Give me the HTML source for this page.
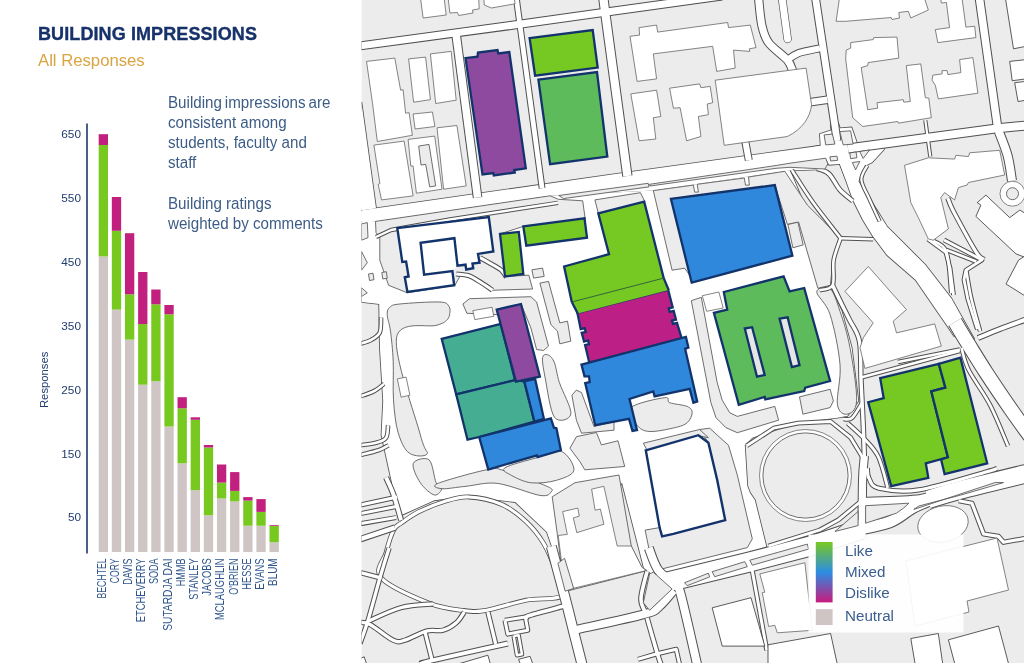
<!DOCTYPE html>
<html lang="en">
<head>
<meta charset="utf-8">
<title>Building Impressions</title>
<style>
html,body{margin:0;padding:0;background:#fff;}
body{width:1024px;height:663px;overflow:hidden;position:relative;font-family:"Liberation Sans",sans-serif;}
svg{position:absolute;left:0;top:0;}
.title{position:absolute;left:38px;top:23.5px;font-size:18px;font-weight:bold;color:#17326a;letter-spacing:0.1px;-webkit-text-stroke:0.35px #17326a;white-space:nowrap;line-height:20px;}
.sub{position:absolute;left:38px;top:50.5px;font-size:16.7px;color:#d9a441;white-space:nowrap;line-height:20px;}
.para{position:absolute;left:168px;font-size:16px;line-height:20.2px;color:#3d5c86;white-space:nowrap;transform:scaleX(0.946);transform-origin:0 0;}
.ax{font-family:"Liberation Sans",sans-serif;font-size:11.8px;fill:#1f3d6f;}
.bl{font-family:"Liberation Sans",sans-serif;font-size:12px;fill:#2d558c;}
.lg{font-family:"Liberation Sans",sans-serif;font-size:15.2px;fill:#3a5d8d;}
/* map */
.g{fill:#ececec;stroke:#555;stroke-width:.85;stroke-linejoin:round;}
.gn{fill:#ececec;stroke:none;}
.w,.w2{fill:#fff;stroke:#666;stroke-width:.8;stroke-linejoin:round;}
.wd{fill:#fff;stroke:#333;stroke-width:.8;stroke-linejoin:round;}
.wn{fill:#fff;stroke:none;}
.ws{fill:#fff;stroke:#555;stroke-width:1.7;stroke-linejoin:round;}
.ln{fill:none;stroke:#6a6a6a;stroke-width:.8;}
.rc{fill:none;stroke:#505050;stroke-linecap:butt;stroke-linejoin:round;}
.rf{fill:none;stroke:#fff;stroke-linecap:butt;stroke-linejoin:round;}
.b{stroke:#12336b;stroke-width:2.3;stroke-linejoin:miter;}
.nv{fill:#fff;stroke:#12336b;stroke-width:2.4;stroke-linejoin:miter;}
</style>
</head>
<body>
<svg width="1024" height="663" viewBox="0 0 1024 663">
<defs>
<clipPath id="mc"><rect x="361.5" y="0" width="662.5" height="663"/></clipPath>
<linearGradient id="lgr" x1="0" y1="0" x2="0" y2="1">
<stop offset="0" stop-color="#79c920"/><stop offset="0.5" stop-color="#2c8de2"/><stop offset="1" stop-color="#c81a7c"/>
</linearGradient>
</defs>
<g clip-path="url(#mc)">
<rect x="361.5" y="0" width="663" height="663" fill="#ececec"/>
<polygon class="ws" points="355.0,211.4 376.0,208.3 612.0,174.5 742.0,156.6 820.7,145.7 825.7,158.5 827.9,164.0 818.2,169.5 790.0,170.5 653.0,190.6 550.0,195.8 375.5,221.4 355.0,224.5"/>
<polygon class="ws" points="355.0,100.0 361.5,102.7 376.0,208.3 355.0,211.4"/>
<polygon class="ws" points="819.9,134.1 831.5,130.3 830.7,125.0 838.5,124.1 839.8,128.3 851.5,127.4 857.3,144.1 883.0,140.4 883.9,149.5 872.2,162.3 866.7,165.1 863.1,173.1 844.8,176.4 839.8,164.0 829.0,164.8 825.7,158.5 806.6,160.8 806.6,148.5 820.7,145.7"/>
<polygon class="ws" points="839.8,163.2 853.0,200.0 863.0,220.0 872.8,236.1 887.0,255.1 915.5,279.8 947.4,326.0 954.3,336.2 974.2,338.9 966.8,326.0 951.6,298.8 925.0,264.6 887.0,226.6 878.0,212.0 858.5,181.4 862.0,170.0 868.0,160.0 850.0,150.0"/>
<polygon class="ws" points="355.0,222.0 375.5,221.4 550.0,195.8 653.3,190.6 790.0,170.5 810.2,218.3 827.4,285.4 831.7,289.7 841.7,311.3 851.7,347.8 858.3,400.9 847.3,415.9 837.5,417.7 797.4,422.7 752.3,437.7 744.8,445.3 747.3,486.1 750.0,493.0 754.8,500.0 766.3,546.4 672.1,583.2 644.6,570.7 622.0,482.5 562.7,577.7 546.9,532.0 515.3,502.1 466.0,496.1 434.4,500.3 399.2,516.1 381.5,435.1 383.2,400.9 379.9,347.8 379.2,304.0 361.6,302.0"/>
<polygon class="ws" points="396.6,338.0 437.4,326.3 441.7,338.8 488.3,469.5 437.9,482.8 430.9,459.8 409.9,395.2 401.1,397.2 397.3,378.9 406.1,377.1"/>
<polygon class="wn" points="355.0,211.4 376.0,208.3 612.0,174.5 742.0,156.6 820.7,145.7 825.7,158.5 827.9,164.0 818.2,169.5 790.0,170.5 653.0,190.6 550.0,195.8 375.5,221.4 355.0,224.5"/>
<polygon class="wn" points="355.0,100.0 361.5,102.7 376.0,208.3 355.0,211.4"/>
<polygon class="wn" points="819.9,134.1 831.5,130.3 830.7,125.0 838.5,124.1 839.8,128.3 851.5,127.4 857.3,144.1 883.0,140.4 883.9,149.5 872.2,162.3 866.7,165.1 863.1,173.1 844.8,176.4 839.8,164.0 829.0,164.8 825.7,158.5 806.6,160.8 806.6,148.5 820.7,145.7"/>
<polygon class="wn" points="839.8,163.2 853.0,200.0 863.0,220.0 872.8,236.1 887.0,255.1 915.5,279.8 947.4,326.0 954.3,336.2 974.2,338.9 966.8,326.0 951.6,298.8 925.0,264.6 887.0,226.6 878.0,212.0 858.5,181.4 862.0,170.0 868.0,160.0 850.0,150.0"/>
<polygon class="wn" points="355.0,222.0 375.5,221.4 550.0,195.8 653.3,190.6 790.0,170.5 810.2,218.3 827.4,285.4 831.7,289.7 841.7,311.3 851.7,347.8 858.3,400.9 847.3,415.9 837.5,417.7 797.4,422.7 752.3,437.7 744.8,445.3 747.3,486.1 750.0,493.0 754.8,500.0 766.3,546.4 672.1,583.2 644.6,570.7 622.0,482.5 562.7,577.7 546.9,532.0 515.3,502.1 466.0,496.1 434.4,500.3 399.2,516.1 381.5,435.1 383.2,400.9 379.9,347.8 379.2,304.0 361.6,302.0"/>
<polygon class="wn" points="396.6,338.0 437.4,326.3 441.7,338.8 488.3,469.5 437.9,482.8 430.9,459.8 409.9,395.2 401.1,397.2 397.3,378.9 406.1,377.1"/>
<polygon class="g" points="653.3,190.6 693.4,185.1 694.7,192.1 698.4,192.1 697.2,184.3 744.3,178.0 745.5,185.1 749.3,185.1 748.5,177.0 784.8,171.3 807.4,205.1 840.0,237.7 832.4,265.2 830.4,285.3 817.9,288.3 798.6,222.1 787.4,224.4 774.8,185.1 670.9,198.8 689.7,275.2 684.6,268.2 672.1,270.2"/>
<path class="g" d="M816.8 292.0 C816.8 287.7 826.2 285.5 830.1 288.7 C834.0 291.9 836.7 301.4 840.0 311.3 C843.4 321.1 847.2 332.9 850.0 347.8 C852.8 362.7 857.2 389.9 856.6 400.9 C856.1 412.0 849.9 413.6 846.7 414.2 C843.5 414.8 838.5 412.5 837.4 404.2 C836.3 395.9 841.3 379.3 840.0 364.4 C838.8 349.5 834.0 326.7 830.1 314.6 C826.2 302.5 816.8 296.3 816.8 292.0Z"/>
<polygon class="g" points="375.5,221.4 550.1,195.8 558.4,199.3 582.7,200.8 585.2,218.9 523.3,226.4 500.0,233.9 505.0,276.5 528.8,275.2 532.6,289.0 491.3,290.3 481.3,280.2 461.2,274.0 454.9,285.3 407.4,292.8 388.6,285.3 379.8,260.2 379.8,237.7 376.0,232.6"/>
<polygon class="g" points="594.9,199.9 640.4,192.7 644.8,201.5 598.4,213.5"/>
<polygon class="g" points="558.8,195.5 648.2,183.3 649.0,186.9 563.5,198.6"/>
<path class="g" d="M387.2 314.6 C387.1 310.6 387.7 309.1 389.8 307.3 C391.9 305.5 391.5 304.9 399.8 304.0 C408.1 303.1 431.5 301.6 439.6 302.0 C447.8 302.4 447.3 304.2 448.9 306.3 C450.6 308.4 450.0 312.2 449.6 314.6 C449.2 317.0 448.4 318.8 446.3 320.6 C444.2 322.3 445.3 322.3 437.0 325.2 C428.7 328.1 399.2 319.5 396.5 337.8 C393.7 356.2 415.3 415.8 420.4 435.1 C425.5 454.5 428.9 451.1 427.0 454.0 C425.1 457.0 413.9 456.6 409.1 453.0 C404.3 449.5 400.7 441.3 398.1 432.5 C395.5 423.6 394.3 411.8 393.5 399.9 C392.7 388.0 393.7 372.5 393.2 361.1 C392.7 349.6 391.5 338.9 390.5 331.2 C389.5 323.5 387.3 318.6 387.2 314.6Z"/>
<path class="g" d="M413.3 463.4 C414.8 459.6 425.3 456.7 429.1 459.9 C432.9 463.1 434.0 478.1 436.1 482.7 C438.3 487.4 442.4 486.0 442.1 488.0 C441.8 490.1 438.0 495.9 434.4 495.0 C430.8 494.2 423.8 488.0 420.3 482.7 C416.8 477.5 411.8 467.2 413.3 463.4Z"/>
<path class="g" d="M437.9 483.4 C445.4 480.3 476.0 471.8 487.1 469.7 C498.3 467.6 494.7 468.0 504.7 470.8 C514.7 473.5 539.2 482.7 546.9 486.3 C554.6 489.8 552.3 490.4 551.1 491.9 C550.0 493.4 548.8 496.8 539.9 495.4 C531.0 494.0 510.0 485.0 497.7 483.4 C485.4 481.9 475.3 485.4 466.0 486.3 C456.8 487.1 446.8 489.2 442.1 488.7 C437.4 488.3 430.4 486.6 437.9 483.4Z"/>
<polygon class="g" points="462.9,304.0 469.5,298.7 530.9,296.7 536.6,302.0 548.5,346.1 543.6,350.5 536.6,349.5 530.9,327.9 521.0,304.0 496.7,309.6 497.7,314.6 466.9,313.3"/>
<polygon class="w2" points="472.8,310.6 492.1,307.3 493.8,316.3 474.8,319.6"/>
<path class="g" d="M542.6 357.6 C543.2 353.8 546.4 354.2 548.4 355.1 C550.3 355.9 552.6 358.0 554.4 362.6 C556.2 367.2 556.7 374.1 559.4 382.6 C562.2 391.2 571.8 408.2 570.9 413.9 C570.1 419.7 558.7 423.2 554.4 417.2 C550.1 411.1 547.1 387.6 545.1 377.6 C543.2 367.7 542.1 361.3 542.6 357.6Z"/>
<polygon class="g" points="571.9,395.2 576.4,390.1 581.5,392.6 594.0,426.5 614.0,421.5 614.0,430.2 581.5,433.2 576.4,420.2"/>
<path class="g" d="M630.8 407.7 C635.4 403.1 658.1 398.5 664.6 397.7 C671.1 396.8 665.9 401.2 669.6 402.7 C673.4 404.1 683.4 404.8 687.2 406.4 C690.9 408.1 692.2 410.0 692.2 412.7 C692.2 415.4 690.1 420.2 687.2 422.7 C684.2 425.2 680.9 426.3 674.6 427.7 C668.4 429.2 655.8 431.9 649.6 431.5 C643.3 431.1 640.2 429.2 637.1 425.2 C633.9 421.2 626.2 412.3 630.8 407.7Z"/>
<polygon class="g" points="691.3,300.7 701.3,297.3 717.2,382.6 722.2,400.2 729.7,412.7 737.3,416.4 774.8,406.4 778.6,420.2 737.3,432.7 726.0,427.7 716.0,417.7 710.9,402.7"/>
<polygon class="g" points="799.5,396.9 830.1,389.3 833.4,400.9 830.1,407.6 802.9,414.2"/>
<polygon class="g" points="645.1,530.1 659.6,527.6 662.1,536.4 673.4,533.9 725.2,520.1 717.2,480.0 708.4,442.7 699.7,429.5 709.7,428.2 728.5,445.3 737.3,475.0 752.3,538.9 747.3,547.6 662.1,568.9 652.1,563.9"/>
<polygon class="g" points="643.3,443.2 699.7,429.5 708.4,437.7 698.4,435.7 647.1,450.3"/>
<polygon class="g" points="576.5,436.6 596.4,432.5 601.4,444.9 618.0,440.8 624.7,466.5 584.8,469.8 579.8,461.5 569.9,448.2"/>
<path class="g" d="M505.0 467.8 C509.2 464.9 527.0 460.5 536.4 457.8 C545.8 455.1 555.1 449.4 561.4 451.5 C567.6 453.6 574.7 465.5 573.9 470.3 C573.1 475.1 563.5 478.2 556.4 480.3 C549.3 482.4 538.9 483.6 531.4 482.8 C523.9 482.0 515.7 477.8 511.3 475.3 C506.9 472.8 500.8 470.7 505.0 467.8Z"/>
<polygon class="g" points="552.2,496.8 575.0,482.7 619.0,475.0 631.3,546.0 641.8,567.1 647.1,570.6 564.5,591.7 557.5,535.5"/>
<polygon class="w2" points="562.7,511.6 577.8,508.1 579.3,516.1 573.3,517.9 576.8,532.7 603.9,524.2 600.4,509.1 595.1,510.2 591.6,489.1 603.9,486.3 617.2,546.0 631.3,546.0 641.8,567.1 646.1,570.6 565.2,590.3 558.2,535.5 567.3,534.4"/>
<polygon class="g" points="361.5,223.9 367.3,222.6 368.0,237.7 361.5,240.2"/>
<polygon class="g" points="361.5,251.4 367.3,262.7 361.5,270.2"/>
<polygon class="g" points="361.5,287.8 367.3,292.8 361.5,296.5"/>
<polygon class="g" points="368.5,274.0 373.0,273.2 374.0,279.7 369.5,280.5"/>
<polygon class="g" points="381.8,272.5 386.3,271.7 387.3,278.2 382.8,279.0"/>
<path class="rc" stroke-width="4.8" d="M381.1 577.7 C374.0 569.3 384.0 560.6 386.1 552.6 C388.1 544.7 391.1 535.0 393.6 530.1 C396.1 525.2 396.9 526.1 401.1 523.1 C405.3 520.0 411.5 515.4 418.6 511.8 C425.7 508.3 435.3 504.3 443.7 501.8 C452.0 499.3 459.1 496.6 468.7 497.0 C478.3 497.5 491.7 500.2 501.3 504.3 C510.9 508.4 519.2 515.2 526.3 521.8 C533.4 528.4 538.9 535.4 543.9 543.9 C548.9 552.4 553.4 564.0 556.4 572.7 C559.4 581.3 566.9 591.1 561.9 595.7 C556.9 600.3 538.9 597.8 526.3 600.2 C513.7 602.7 496.7 608.5 486.3 610.3 C475.8 612.0 473.3 611.7 463.7 610.5 C454.1 609.3 442.4 608.5 428.6 603.0 C414.9 597.5 388.1 586.1 381.1 577.7Z"/><path class="rf" stroke-width="3.2" d="M381.1 577.7 C374.0 569.3 384.0 560.6 386.1 552.6 C388.1 544.7 391.1 535.0 393.6 530.1 C396.1 525.2 396.9 526.1 401.1 523.1 C405.3 520.0 411.5 515.4 418.6 511.8 C425.7 508.3 435.3 504.3 443.7 501.8 C452.0 499.3 459.1 496.6 468.7 497.0 C478.3 497.5 491.7 500.2 501.3 504.3 C510.9 508.4 519.2 515.2 526.3 521.8 C533.4 528.4 538.9 535.4 543.9 543.9 C548.9 552.4 553.4 564.0 556.4 572.7 C559.4 581.3 566.9 591.1 561.9 595.7 C556.9 600.3 538.9 597.8 526.3 600.2 C513.7 602.7 496.7 608.5 486.3 610.3 C475.8 612.0 473.3 611.7 463.7 610.5 C454.1 609.3 442.4 608.5 428.6 603.0 C414.9 597.5 388.1 586.1 381.1 577.7Z"/>
<polygon class="w2" points="397.3,378.9 406.1,377.1 409.9,395.2 401.1,397.2"/>
<polygon class="g" points="787.9,224.5 797.9,222.2 803.2,244.9 792.9,247.8"/>
<polyline class="rc" points="355.0,46.6 515.8,24.8 612.0,11.2 722.0,-4.0" stroke-width="9.0"/>
<polyline class="rc" points="455.9,33.0 477.6,197.6" stroke-width="9.6"/>
<polyline class="rc" points="516.3,-2.0 520.3,27.6 542.1,188.3" stroke-width="6.8"/>
<polyline class="rc" points="603.3,-2.0 605.7,16.3 627.4,176.0" stroke-width="10.3"/>
<polyline class="rc" points="815.5,-2.0 835.6,130.3 837.0,141.0" stroke-width="8.8"/>
<polyline class="rc" points="979.4,-2.0 997.2,124.5 998.0,131.0" stroke-width="9.5"/>
<polyline class="rc" points="848.0,148.5 995.0,128.6 1026.0,125.5" stroke-width="10.0"/>
<path class="rc" d="M758.5 -2.5 C759.1 2.1 760.1 17.5 761.8 25.1 C763.5 32.6 764.3 36.7 768.6 42.6 C772.8 48.4 783.3 55.3 787.4 60.1 C791.4 64.9 791.9 69.5 792.9 71.4" stroke-width="9.2"/>
<path class="rc" d="M787.4 60.1 C789.2 59.0 793.2 55.1 798.6 53.1 C804.1 51.1 816.4 49.1 819.9 48.3" stroke-width="8.0"/>
<polyline class="rc" points="809.9,102.2 827.4,99.7" stroke-width="8.5"/>
<polyline class="rc" points="745.3,141.5 748.8,160.3" stroke-width="8.0"/>
<path class="rc" d="M955.0 322.0 C957.1 325.6 962.7 335.0 967.9 343.4 C973.1 351.8 978.9 361.5 986.0 372.4 C993.1 383.3 1003.1 398.0 1010.4 408.6 C1017.7 419.2 1026.7 431.4 1030.0 436.0" stroke-width="15.5"/>
<path class="rc" d="M978.0 338.0 C981.7 336.5 992.0 332.1 1000.0 329.0 C1008.0 325.9 1021.7 321.1 1026.0 319.5" stroke-width="6.0"/>
<polyline class="rc" points="898.0,362.0 960.0,349.5" stroke-width="4.6"/>
<path class="rc" d="M817.4 168.5 C819.3 169.4 825.3 170.4 829.0 174.0 C832.8 177.5 835.9 185.2 839.8 189.7 C843.8 194.2 850.6 199.1 852.8 201.0" stroke-width="5.3"/>
<path class="rc" d="M867.2 165.6 C866.3 168.0 861.0 174.1 861.4 179.8 C861.8 185.4 866.7 192.8 869.7 199.7 C872.8 206.6 878.0 217.7 879.7 221.3" stroke-width="4.2"/>
<path class="rc" d="M998.7 131.1 C1000.2 135.3 1005.5 147.7 1007.7 156.0 C1009.9 164.3 1011.3 176.8 1012.0 180.9" stroke-width="10.0"/>
<path class="rc" d="M791.8 170.0 C795.3 175.4 804.9 191.2 813.1 202.6 C821.2 213.9 836.1 232.2 840.6 238.2" stroke-width="4.6"/>
<polyline class="rc" points="840.6,238.2 873.2,239.2" stroke-width="4.6"/>
<path class="rc" d="M840.6 238.2 C839.5 241.8 835.0 252.4 833.6 260.2 C832.3 268.0 835.0 280.2 832.6 285.3 C830.2 290.3 821.6 289.4 819.4 290.3" stroke-width="4.6"/>
<path class="rc" d="M359.8 539.4 L394.8 527.6" stroke-width="6.5"/>
<path class="rc" d="M359.8 505.1 L397.3 497.0" stroke-width="5.0"/>
<path class="rc" d="M359.8 513.8 L397.3 506.3" stroke-width="5.0"/>
<path class="rc" d="M359.8 523.8 L396.1 517.6" stroke-width="5.0"/>
<path class="rc" d="M386.1 477.5 C387.3 480.4 391.1 487.9 393.6 495.0 C396.1 502.1 399.8 515.9 401.1 520.1" stroke-width="6.0"/>
<path class="rc" d="M389.1 548.0 C387.5 553.0 383.4 566.0 379.9 577.9 C376.5 589.8 371.6 608.5 368.3 619.4 C365.0 630.4 361.4 639.5 360.0 643.5" stroke-width="5.3"/>
<path class="rc" d="M358.3 572.1 L381.6 578.2" stroke-width="5.4"/>
<path class="rc" d="M368.3 621.1 C373.8 618.8 390.7 610.4 401.5 607.5 C412.3 604.6 427.8 604.4 433.1 603.8" stroke-width="5.3"/>
<path class="rc" d="M358.3 622.4 C360.3 622.8 364.2 621.5 370.0 624.4 C375.8 627.4 387.4 637.6 393.2 640.2 C399.0 642.8 399.3 641.7 404.9 640.2 C410.4 638.7 420.1 632.7 426.4 631.1 C432.8 629.4 438.1 631.6 443.1 630.2 C448.0 628.9 452.8 625.8 456.3 622.8 C459.9 619.7 463.0 613.8 464.3 612.0" stroke-width="5.3"/>
<path class="rc" d="M425.1 632.4 L432.3 661.0" stroke-width="5.3"/>
<path class="rc" d="M419.8 664.0 C421.7 663.4 416.8 664.0 431.4 660.6 C446.1 657.2 495.1 646.4 507.8 643.5" stroke-width="6.0"/>
<path class="rc" d="M526.1 618.1 C526.8 617.6 523.8 617.3 530.0 615.3 C536.2 613.3 557.7 607.7 563.2 606.2" stroke-width="5.6"/>
<path class="rc" d="M487.9 612.0 L495.7 644.0" stroke-width="5.3"/>
<polyline class="rc" points="504.9,620.3 525.3,617.0 527.8,630.2 507.8,634.1 504.9,620.3" stroke-width="5.0"/>
<polyline class="rc" points="513.7,636.1 518.6,635.2 522.0,654.3 517.0,655.2 513.7,636.1" stroke-width="4.5"/>
<path class="rc" d="M551.3 546.4 C553.5 554.6 560.8 581.7 564.6 595.9 C568.3 610.0 570.5 619.1 573.5 631.1 C576.6 643.0 581.3 661.5 582.8 667.6" stroke-width="11.0"/>
<path class="rc" d="M575.7 629.7 C587.2 627.1 630.6 618.1 644.6 614.1 C658.6 610.2 654.7 610.1 659.6 606.2 C664.4 602.2 671.3 593.0 673.7 590.4" stroke-width="9.5"/>
<path class="rc" d="M647.1 571.3 C646.1 575.7 641.4 591.2 641.0 597.9 C640.5 604.5 644.0 608.9 644.6 611.1" stroke-width="5.6"/>
<path class="rc" d="M647.1 618.1 C648.8 623.9 654.6 644.4 657.1 652.7 C659.6 660.9 661.2 665.1 662.1 667.6" stroke-width="5.6"/>
<polyline class="rc" points="638.0,659.3 656.2,654.0 676.2,649.3 680.3,667.6" stroke-width="5.0"/>
<path class="rc" d="M648.8 548.0 C650.3 551.6 653.8 563.7 657.9 569.6 C662.1 575.6 670.0 579.9 673.7 583.7 C677.4 587.6 676.3 578.9 680.3 592.9 C684.3 606.8 694.9 655.2 697.8 667.6" stroke-width="10.0"/>
<polyline class="rc" points="655.0,585.0 748.5,562.3 812.4,545.5 862.0,529.0" stroke-width="21.0"/>
<path class="rc" d="M852.0 530.5 C858.3 529.0 879.6 525.6 889.7 521.8 C899.9 517.9 905.2 511.4 912.9 507.4 C920.6 503.3 932.1 499.1 936.0 497.5" stroke-width="13.0"/>
<path class="rc" d="M864.0 501.8 C873.3 501.4 906.6 500.7 919.6 499.1 C932.6 497.5 938.3 493.2 942.0 492.0" stroke-width="10.0"/>
<path class="rc" d="M928.0 499.5 C933.3 497.9 943.5 494.3 960.0 490.0 C976.5 485.7 1015.7 476.2 1026.8 473.5" stroke-width="19.5"/>
<path class="rc" d="M864.4 456.0 C864.1 460.0 863.0 466.3 862.6 480.0 C862.2 493.7 862.1 528.3 862.0 538.0" stroke-width="9.2"/>
<polyline class="rc" points="751.5,566.4 766.8,650.3" stroke-width="5.0"/>
<polyline class="rc" points="746.6,445.8 773.7,428.2 798.0,423.2 830.6,421.5 850.7,437.7 864.4,460.3" stroke-width="4.8"/>
<polyline class="rc" points="860.0,502.0 838.7,519.7 819.4,530.2 768.4,546.0" stroke-width="4.8"/>
<path class="rc" d="M832.6 285.3 C834.0 288.3 838.4 297.4 841.2 303.2 C844.0 308.9 846.5 313.4 849.5 319.8 C852.5 326.2 857.6 331.4 859.5 341.4 C861.4 351.4 860.4 366.9 861.0 380.0 C861.6 393.1 862.4 407.0 863.0 420.0 C863.6 433.0 864.2 451.7 864.4 458.0" stroke-width="5.4"/>
<path class="rc" d="M862.0 403.0 C860.3 405.5 855.2 415.3 852.0 418.0 C848.8 420.7 844.5 418.8 843.0 419.0" stroke-width="4.6"/>
<polyline class="rc" points="860.0,377.7 959.6,351.0" stroke-width="4.6"/>
<path class="rc" d="M847.7 423.2 C850.2 425.6 858.1 432.2 863.2 437.7 C868.3 443.3 874.1 448.2 878.2 456.5 C882.3 464.9 886.2 482.6 887.7 487.8" stroke-width="4.8"/>
<path class="rc" d="M961.5 348.0 C962.7 351.7 963.9 360.4 968.7 370.0 C973.5 379.6 983.9 392.9 990.4 405.6 C996.9 418.3 1005.1 439.3 1008.0 446.0" stroke-width="4.6"/>
<path class="rc" d="M867.3 468.3 C867.6 470.0 867.0 475.0 869.0 478.3 C870.9 481.6 870.6 486.3 878.9 488.3 C887.2 490.2 900.8 492.7 918.8 489.9 C936.8 487.2 973.9 475.3 986.9 471.7 C999.9 468.1 995.2 468.9 996.9 468.3" stroke-width="5.2"/>
<polyline class="rc" points="958.7,500.7 971.9,503.2 983.6,534.0 998.5,536.4 1003.5,542.3 1026.8,538.1" stroke-width="5.2"/>
<path class="rc" d="M456.2 274.0 C458.3 274.3 464.6 274.3 468.7 275.7 C472.9 277.2 477.3 280.3 481.3 282.7 C485.2 285.2 490.6 289.0 492.5 290.3" stroke-width="5.0"/>
<path class="rc" d="M480.0 257.7 C481.9 258.7 487.7 261.9 491.3 264.0 C494.8 266.0 498.8 268.0 501.3 270.2 C503.8 272.4 505.5 276.1 506.3 277.2" stroke-width="5.0"/>
<polyline class="rc" points="927.9,239.0 945.9,252.3 950.1,268.4 953.5,295.0" stroke-width="4.8"/>
<polyline class="rc" points="944.0,239.9 982.0,259.9 965.9,270.3 964.0,279.8 967.8,298.8 977.3,329.2" stroke-width="4.8"/>
<path class="rc" d="M947.8 198.1 C948.8 200.3 948.8 202.4 953.5 211.4 C958.3 220.4 971.2 244.3 976.3 252.3 C981.4 260.2 982.6 258.1 983.9 259.3" stroke-width="5.2"/>
<path class="rc" d="M359.8 343.8 C361.6 343.2 367.7 341.9 371.0 340.0 C374.4 338.2 378.1 336.3 379.8 332.5 C381.5 328.8 380.8 320.0 381.1 317.5" stroke-width="4.6"/>
<path class="rc" d="M359.8 396.4 C362.1 395.6 369.5 393.5 373.5 391.4 C377.6 389.3 382.3 385.1 384.1 383.9" stroke-width="4.6"/>
<path class="rc" d="M359.8 445.3 C362.5 444.8 371.7 444.0 376.0 442.7 C380.4 441.5 384.1 440.7 386.1 437.7 C388.1 434.8 387.7 427.3 388.1 425.2" stroke-width="4.6"/>
<path class="rc" d="M359.8 455.3 C362.9 454.4 373.7 451.9 378.5 450.3 C383.3 448.6 386.9 446.1 388.6 445.3" stroke-width="4.6"/>
<path class="rc" d="M931.3 239.9 C933.8 241.8 943.0 242.7 946.3 251.5 C949.6 260.4 950.4 286.1 951.3 293.0" stroke-width="4.6"/>
<polyline class="rc" points="946.3,249.9 976.2,261.5" stroke-width="4.6"/>
<path class="rc" d="M966.2 269.8 C967.0 274.5 968.9 287.8 971.2 298.0 C973.5 308.2 978.7 325.7 980.1 331.2" stroke-width="4.6"/>
<polyline class="rc" points="376.0,237.0 391.0,230.0 450.0,219.5 558.0,202.8" stroke-width="4.4"/>
<polyline class="rc" points="925.3,120.2 930.3,156.6" stroke-width="4.2"/>
<polyline class="rf" points="355.0,46.6 515.8,24.8 612.0,11.2 722.0,-4.0" stroke-width="7.0"/>
<polyline class="rf" points="455.9,33.0 477.6,197.6" stroke-width="7.6"/>
<polyline class="rf" points="516.3,-2.0 520.3,27.6 542.1,188.3" stroke-width="4.8"/>
<polyline class="rf" points="603.3,-2.0 605.7,16.3 627.4,176.0" stroke-width="8.3"/>
<polyline class="rf" points="815.5,-2.0 835.6,130.3 837.0,141.0" stroke-width="6.8"/>
<polyline class="rf" points="979.4,-2.0 997.2,124.5 998.0,131.0" stroke-width="7.5"/>
<polyline class="rf" points="848.0,148.5 995.0,128.6 1026.0,125.5" stroke-width="8.0"/>
<path class="rf" d="M758.5 -2.5 C759.1 2.1 760.1 17.5 761.8 25.1 C763.5 32.6 764.3 36.7 768.6 42.6 C772.8 48.4 783.3 55.3 787.4 60.1 C791.4 64.9 791.9 69.5 792.9 71.4" stroke-width="7.2"/>
<path class="rf" d="M787.4 60.1 C789.2 59.0 793.2 55.1 798.6 53.1 C804.1 51.1 816.4 49.1 819.9 48.3" stroke-width="6.0"/>
<polyline class="rf" points="809.9,102.2 827.4,99.7" stroke-width="6.5"/>
<polyline class="rf" points="745.3,141.5 748.8,160.3" stroke-width="6.0"/>
<path class="rf" d="M955.0 322.0 C957.1 325.6 962.7 335.0 967.9 343.4 C973.1 351.8 978.9 361.5 986.0 372.4 C993.1 383.3 1003.1 398.0 1010.4 408.6 C1017.7 419.2 1026.7 431.4 1030.0 436.0" stroke-width="13.5"/>
<path class="rf" d="M978.0 338.0 C981.7 336.5 992.0 332.1 1000.0 329.0 C1008.0 325.9 1021.7 321.1 1026.0 319.5" stroke-width="4.0"/>
<polyline class="rf" points="898.0,362.0 960.0,349.5" stroke-width="2.6"/>
<path class="rf" d="M817.4 168.5 C819.3 169.4 825.3 170.4 829.0 174.0 C832.8 177.5 835.9 185.2 839.8 189.7 C843.8 194.2 850.6 199.1 852.8 201.0" stroke-width="3.3"/>
<path class="rf" d="M867.2 165.6 C866.3 168.0 861.0 174.1 861.4 179.8 C861.8 185.4 866.7 192.8 869.7 199.7 C872.8 206.6 878.0 217.7 879.7 221.3" stroke-width="2.2"/>
<path class="rf" d="M998.7 131.1 C1000.2 135.3 1005.5 147.7 1007.7 156.0 C1009.9 164.3 1011.3 176.8 1012.0 180.9" stroke-width="8.0"/>
<path class="rf" d="M791.8 170.0 C795.3 175.4 804.9 191.2 813.1 202.6 C821.2 213.9 836.1 232.2 840.6 238.2" stroke-width="2.6"/>
<polyline class="rf" points="840.6,238.2 873.2,239.2" stroke-width="2.6"/>
<path class="rf" d="M840.6 238.2 C839.5 241.8 835.0 252.4 833.6 260.2 C832.3 268.0 835.0 280.2 832.6 285.3 C830.2 290.3 821.6 289.4 819.4 290.3" stroke-width="2.6"/>
<path class="rf" d="M359.8 539.4 L394.8 527.6" stroke-width="4.5"/>
<path class="rf" d="M359.8 505.1 L397.3 497.0" stroke-width="3.0"/>
<path class="rf" d="M359.8 513.8 L397.3 506.3" stroke-width="3.0"/>
<path class="rf" d="M359.8 523.8 L396.1 517.6" stroke-width="3.0"/>
<path class="rf" d="M386.1 477.5 C387.3 480.4 391.1 487.9 393.6 495.0 C396.1 502.1 399.8 515.9 401.1 520.1" stroke-width="4.0"/>
<path class="rf" d="M389.1 548.0 C387.5 553.0 383.4 566.0 379.9 577.9 C376.5 589.8 371.6 608.5 368.3 619.4 C365.0 630.4 361.4 639.5 360.0 643.5" stroke-width="3.3"/>
<path class="rf" d="M358.3 572.1 L381.6 578.2" stroke-width="3.4"/>
<path class="rf" d="M368.3 621.1 C373.8 618.8 390.7 610.4 401.5 607.5 C412.3 604.6 427.8 604.4 433.1 603.8" stroke-width="3.3"/>
<path class="rf" d="M358.3 622.4 C360.3 622.8 364.2 621.5 370.0 624.4 C375.8 627.4 387.4 637.6 393.2 640.2 C399.0 642.8 399.3 641.7 404.9 640.2 C410.4 638.7 420.1 632.7 426.4 631.1 C432.8 629.4 438.1 631.6 443.1 630.2 C448.0 628.9 452.8 625.8 456.3 622.8 C459.9 619.7 463.0 613.8 464.3 612.0" stroke-width="3.3"/>
<path class="rf" d="M425.1 632.4 L432.3 661.0" stroke-width="3.3"/>
<path class="rf" d="M419.8 664.0 C421.7 663.4 416.8 664.0 431.4 660.6 C446.1 657.2 495.1 646.4 507.8 643.5" stroke-width="4.0"/>
<path class="rf" d="M526.1 618.1 C526.8 617.6 523.8 617.3 530.0 615.3 C536.2 613.3 557.7 607.7 563.2 606.2" stroke-width="3.6"/>
<path class="rf" d="M487.9 612.0 L495.7 644.0" stroke-width="3.3"/>
<polyline class="rf" points="504.9,620.3 525.3,617.0 527.8,630.2 507.8,634.1 504.9,620.3" stroke-width="3.0"/>
<polyline class="rf" points="513.7,636.1 518.6,635.2 522.0,654.3 517.0,655.2 513.7,636.1" stroke-width="2.5"/>
<path class="rf" d="M551.3 546.4 C553.5 554.6 560.8 581.7 564.6 595.9 C568.3 610.0 570.5 619.1 573.5 631.1 C576.6 643.0 581.3 661.5 582.8 667.6" stroke-width="9.0"/>
<path class="rf" d="M575.7 629.7 C587.2 627.1 630.6 618.1 644.6 614.1 C658.6 610.2 654.7 610.1 659.6 606.2 C664.4 602.2 671.3 593.0 673.7 590.4" stroke-width="7.5"/>
<path class="rf" d="M647.1 571.3 C646.1 575.7 641.4 591.2 641.0 597.9 C640.5 604.5 644.0 608.9 644.6 611.1" stroke-width="3.6"/>
<path class="rf" d="M647.1 618.1 C648.8 623.9 654.6 644.4 657.1 652.7 C659.6 660.9 661.2 665.1 662.1 667.6" stroke-width="3.6"/>
<polyline class="rf" points="638.0,659.3 656.2,654.0 676.2,649.3 680.3,667.6" stroke-width="3.0"/>
<path class="rf" d="M648.8 548.0 C650.3 551.6 653.8 563.7 657.9 569.6 C662.1 575.6 670.0 579.9 673.7 583.7 C677.4 587.6 676.3 578.9 680.3 592.9 C684.3 606.8 694.9 655.2 697.8 667.6" stroke-width="8.0"/>
<polyline class="rf" points="655.0,585.0 748.5,562.3 812.4,545.5 862.0,529.0" stroke-width="19.0"/>
<path class="rf" d="M852.0 530.5 C858.3 529.0 879.6 525.6 889.7 521.8 C899.9 517.9 905.2 511.4 912.9 507.4 C920.6 503.3 932.1 499.1 936.0 497.5" stroke-width="11.0"/>
<path class="rf" d="M864.0 501.8 C873.3 501.4 906.6 500.7 919.6 499.1 C932.6 497.5 938.3 493.2 942.0 492.0" stroke-width="8.0"/>
<path class="rf" d="M928.0 499.5 C933.3 497.9 943.5 494.3 960.0 490.0 C976.5 485.7 1015.7 476.2 1026.8 473.5" stroke-width="17.5"/>
<path class="rf" d="M864.4 456.0 C864.1 460.0 863.0 466.3 862.6 480.0 C862.2 493.7 862.1 528.3 862.0 538.0" stroke-width="7.2"/>
<polyline class="rf" points="751.5,566.4 766.8,650.3" stroke-width="3.0"/>
<polyline class="rf" points="746.6,445.8 773.7,428.2 798.0,423.2 830.6,421.5 850.7,437.7 864.4,460.3" stroke-width="2.8"/>
<polyline class="rf" points="860.0,502.0 838.7,519.7 819.4,530.2 768.4,546.0" stroke-width="2.8"/>
<path class="rf" d="M832.6 285.3 C834.0 288.3 838.4 297.4 841.2 303.2 C844.0 308.9 846.5 313.4 849.5 319.8 C852.5 326.2 857.6 331.4 859.5 341.4 C861.4 351.4 860.4 366.9 861.0 380.0 C861.6 393.1 862.4 407.0 863.0 420.0 C863.6 433.0 864.2 451.7 864.4 458.0" stroke-width="3.4"/>
<path class="rf" d="M862.0 403.0 C860.3 405.5 855.2 415.3 852.0 418.0 C848.8 420.7 844.5 418.8 843.0 419.0" stroke-width="2.6"/>
<polyline class="rf" points="860.0,377.7 959.6,351.0" stroke-width="2.6"/>
<path class="rf" d="M847.7 423.2 C850.2 425.6 858.1 432.2 863.2 437.7 C868.3 443.3 874.1 448.2 878.2 456.5 C882.3 464.9 886.2 482.6 887.7 487.8" stroke-width="2.8"/>
<path class="rf" d="M961.5 348.0 C962.7 351.7 963.9 360.4 968.7 370.0 C973.5 379.6 983.9 392.9 990.4 405.6 C996.9 418.3 1005.1 439.3 1008.0 446.0" stroke-width="2.6"/>
<path class="rf" d="M867.3 468.3 C867.6 470.0 867.0 475.0 869.0 478.3 C870.9 481.6 870.6 486.3 878.9 488.3 C887.2 490.2 900.8 492.7 918.8 489.9 C936.8 487.2 973.9 475.3 986.9 471.7 C999.9 468.1 995.2 468.9 996.9 468.3" stroke-width="3.2"/>
<polyline class="rf" points="958.7,500.7 971.9,503.2 983.6,534.0 998.5,536.4 1003.5,542.3 1026.8,538.1" stroke-width="3.2"/>
<path class="rf" d="M456.2 274.0 C458.3 274.3 464.6 274.3 468.7 275.7 C472.9 277.2 477.3 280.3 481.3 282.7 C485.2 285.2 490.6 289.0 492.5 290.3" stroke-width="3.0"/>
<path class="rf" d="M480.0 257.7 C481.9 258.7 487.7 261.9 491.3 264.0 C494.8 266.0 498.8 268.0 501.3 270.2 C503.8 272.4 505.5 276.1 506.3 277.2" stroke-width="3.0"/>
<polyline class="rf" points="927.9,239.0 945.9,252.3 950.1,268.4 953.5,295.0" stroke-width="2.8"/>
<polyline class="rf" points="944.0,239.9 982.0,259.9 965.9,270.3 964.0,279.8 967.8,298.8 977.3,329.2" stroke-width="2.8"/>
<path class="rf" d="M947.8 198.1 C948.8 200.3 948.8 202.4 953.5 211.4 C958.3 220.4 971.2 244.3 976.3 252.3 C981.4 260.2 982.6 258.1 983.9 259.3" stroke-width="3.2"/>
<path class="rf" d="M359.8 343.8 C361.6 343.2 367.7 341.9 371.0 340.0 C374.4 338.2 378.1 336.3 379.8 332.5 C381.5 328.8 380.8 320.0 381.1 317.5" stroke-width="2.6"/>
<path class="rf" d="M359.8 396.4 C362.1 395.6 369.5 393.5 373.5 391.4 C377.6 389.3 382.3 385.1 384.1 383.9" stroke-width="2.6"/>
<path class="rf" d="M359.8 445.3 C362.5 444.8 371.7 444.0 376.0 442.7 C380.4 441.5 384.1 440.7 386.1 437.7 C388.1 434.8 387.7 427.3 388.1 425.2" stroke-width="2.6"/>
<path class="rf" d="M359.8 455.3 C362.9 454.4 373.7 451.9 378.5 450.3 C383.3 448.6 386.9 446.1 388.6 445.3" stroke-width="2.6"/>
<path class="rf" d="M931.3 239.9 C933.8 241.8 943.0 242.7 946.3 251.5 C949.6 260.4 950.4 286.1 951.3 293.0" stroke-width="2.6"/>
<polyline class="rf" points="946.3,249.9 976.2,261.5" stroke-width="2.6"/>
<path class="rf" d="M966.2 269.8 C967.0 274.5 968.9 287.8 971.2 298.0 C973.5 308.2 978.7 325.7 980.1 331.2" stroke-width="2.6"/>
<polyline class="rf" points="376.0,237.0 391.0,230.0 450.0,219.5 558.0,202.8" stroke-width="2.4"/>
<polyline class="rf" points="925.3,120.2 930.3,156.6" stroke-width="2.2"/>
<polygon class="b" style="fill:#8e4a9e" points="465.5,58.1 477.5,56.6 478.0,52.6 497.5,50.1 498.3,53.4 509.3,52.1 525.8,168.3 514.3,170.0 514.8,172.5 493.8,175.5 493.3,173.0 482.5,174.5"/>
<polygon class="b" style="fill:#76c823" points="529.6,38.1 592.7,30.1 597.7,67.6 535.1,75.7"/>
<polygon class="b" style="fill:#5dbb5b" points="538.4,79.7 597.0,72.1 607.3,156.6 550.1,164.1"/>
<polygon class="b" style="fill:#76c823" points="500.0,233.9 518.8,231.9 523.3,274.0 505.0,276.5"/>
<polygon class="b" style="fill:#76c823" points="523.3,226.4 584.5,218.4 587.0,237.7 526.3,245.7"/>
<polygon class="b" style="fill:#45ad92" points="441.7,338.8 500.8,323.8 515.1,380.1 456.2,394.4"/>
<polygon class="b" style="fill:#45ad92" points="456.2,394.4 515.1,380.1 524.3,381.4 534.4,421.5 479.2,437.0 467.5,439.7"/>
<polygon class="b" style="fill:#2f88db" points="524.3,381.4 535.1,378.9 543.9,418.9 534.4,421.5"/>
<polygon class="b" style="fill:#2f88db" points="479.2,437.0 550.9,418.4 553.9,427.7 556.4,428.2 560.9,450.3 537.6,457.0 536.9,455.3 488.3,469.5"/>
<polygon class="b" style="fill:#8e4a9e" points="496.7,309.6 521.0,304.0 539.9,376.7 516.0,381.7"/>
<polygon class="b" style="fill:#bc2086" points="577.4,312.9 668.1,289.7 672.7,307.3 668.7,308.3 669.7,311.9 673.7,310.9 676.0,319.6 672.0,320.6 673.0,323.9 677.0,322.9 681.7,338.5 589.7,364.4 585.1,345.1 589.0,344.2 588.0,340.5 584.1,341.5 581.7,332.9 585.7,331.9 584.7,328.2 580.7,329.2"/>
<polygon class="b" style="fill:#2f88db" points="581.5,364.6 685.9,337.0 688.4,347.6 685.1,348.8 697.2,401.4 693.4,402.7 689.7,388.9 654.6,396.4 653.3,391.4 629.5,398.9 637.0,430.2 632.5,431.0 629.0,418.9 595.2,425.2 585.2,383.1 589.7,382.1 589.0,376.4 584.5,376.4"/>
<polygon style="fill:#76c823" points="571.1,300.7 664.1,277.4 668.7,290.0 577.8,313.6"/>
<polygon style="fill:#76c823" points="598.3,213.3 644.2,201.7 663.7,278.1 571.8,302.0 564.1,266.5 609.0,254.2"/>
<polyline class="b" fill="none" points="663.7,278.1 644.2,201.7 598.3,213.3 609.0,254.2 564.1,266.5 571.8,302.0"/>
<polyline fill="none" stroke="#2a5a3a" stroke-width=".9" points="571.8,302.0 663.7,278.1"/>
<polyline class="b" fill="none" points="663.7,278.1 668.7,290.0"/>
<polyline class="b" fill="none" points="571.8,302.0 577.8,313.6"/>
<polygon class="b" style="fill:#2f88db" points="670.9,198.8 774.8,185.1 792.4,255.7 691.7,282.7"/>
<polygon class="b" style="fill:#5dbb5b" points="723.8,292.0 783.6,276.4 789.6,291.4 804.2,288.0 830.1,381.0 805.2,387.6 804.2,391.0 765.3,399.3 764.7,396.9 738.8,404.9 713.9,312.9 727.2,309.6"/>
<polygon class="b" style="fill:#e6e6e6" points="744.8,328.5 752.1,327.2 764.7,375.0 757.0,376.7"/>
<polygon class="b" style="fill:#e6e6e6" points="779.6,318.6 787.6,317.3 799.5,365.1 791.9,367.1"/>
<polygon class="b" style="fill:#76c823" points="880.2,378.1 938.8,363.8 945.4,387.6 931.3,391.4 947.9,457.3 925.8,463.3 928.3,477.8 891.2,486.1 868.2,402.2 883.7,398.2"/>
<polygon class="b" style="fill:#76c823" points="938.8,363.8 960.4,357.6 987.2,463.3 944.6,474.1 941.1,459.5 947.9,457.3 931.3,391.4 945.4,387.6"/>
<polygon class="w" points="420.6,-1.3 444.2,-1.3 446.2,15.0 423.1,18.0"/>
<polygon class="w" points="448.2,-1.3 478.7,-1.3 479.2,8.8 472.5,10.0 473.0,13.0 458.7,15.5 457.5,12.5 449.9,13.0"/>
<polygon class="w" points="483.8,-1.3 514.3,-1.3 515.1,3.8 491.3,8.0 484.3,5.0"/>
<polygon class="w" points="366.5,61.4 394.8,58.1 400.6,90.2 403.1,89.7 405.6,113.2 409.1,112.7 412.4,135.3 377.3,141.5 372.5,103.2"/>
<polygon class="w" points="408.6,58.9 425.6,57.1 430.4,99.7 413.6,102.2"/>
<polygon class="w" points="430.4,53.9 451.2,51.4 456.2,100.2 435.7,103.5"/>
<polygon class="w" points="413.1,114.0 432.4,112.0 434.9,126.5 415.1,129.0"/>
<polygon class="w" points="437.0,127.8 456.9,125.5 466.2,185.9 443.6,189.2"/>
<polygon class="w" points="373.9,145.1 404.1,141.1 413.1,195.9 381.5,199.9 378.2,184.3 379.9,183.6"/>
<polygon class="w" points="408.1,139.4 434.7,136.1 442.0,189.2 416.4,193.2 413.1,166.0 410.8,166.0"/>
<polygon class="g" points="418.7,146.1 429.0,144.4 435.7,185.9 429.7,186.9 425.7,164.3 421.0,165.0"/>
<polygon class="w" points="630.0,36.3 639.6,35.1 639.1,27.6 656.6,25.1 657.6,32.1 727.7,22.5 728.5,27.6 750.3,25.1 756.0,47.6 749.3,48.8 749.8,51.4 733.5,50.1 735.2,68.1 716.7,71.4 712.7,46.3 653.3,53.9 656.6,78.9 637.1,81.4"/>
<polygon class="w" points="630.8,93.9 656.6,90.2 660.8,116.5 653.3,117.7 655.8,139.0 639.1,140.8"/>
<polygon class="w" points="669.6,88.2 699.7,83.9 700.9,87.7 710.2,86.4 712.7,102.7 707.2,104.0 708.4,114.7 698.4,116.5 700.9,136.5 686.6,140.8 680.1,107.7 673.4,108.2"/>
<path class="w" d="M715.2 80.2 L806.1 68.1 L811.6 105.2 C809.9 117.7 802.4 129.0 787.4 136.5 L724.2 145.3Z"/>
<polygon class="w" points="839.4,-1.3 924.6,-1.3 928.3,10.0 910.8,18.0 908.3,11.3 898.8,12.5 899.5,18.0 892.0,19.5 891.2,17.5 845.7,21.3 836.1,21.3"/>
<polygon class="w" points="940.8,-1.3 962.1,-1.3 965.9,27.1 974.7,26.3 975.9,37.6 937.8,42.6 935.3,29.6 949.6,27.6 946.4,2.5 941.3,3.0"/>
<polygon class="w" points="850.7,42.6 873.2,39.6 873.7,37.6 897.0,37.1 898.8,58.1 868.2,62.6 867.7,65.6 861.2,67.6 867.7,109.7 877.7,108.2 877.0,102.7 903.3,99.7 903.8,102.2 910.3,101.5 906.3,65.6 920.8,63.9 925.3,97.7 928.8,98.2 931.3,117.7 898.3,123.2 897.8,121.5 862.7,126.5 852.7,117.7 845.7,58.9 846.2,50.1 850.7,48.1"/>
<polygon class="w" points="932.8,75.2 942.1,73.9 942.1,70.6 947.1,70.6 947.9,74.6 960.9,72.6 959.6,59.6 972.9,57.6 977.9,93.2 938.3,98.9 935.3,85.2 932.1,80.2"/>
<polygon class="wd" points="1005.5,-1.3 1026.0,-1.3 1026.0,46.3 1013.5,48.8"/>
<polygon class="wd" points="1009.7,61.4 1026.0,59.6 1026.0,78.9 1012.2,80.7"/>
<polygon class="wd" points="1014.7,82.7 1026.0,81.4 1026.0,100.2 1018.0,101.5"/>
<path class="rc" stroke-width="8.3" style="stroke-linecap:round" d="M781.5 -6.0 L787.6 39.0"/><path class="rf" stroke-width="7" style="stroke-linecap:round" d="M781.5 -6.0 L787.6 39.0"/>
<polygon class="g" points="824.1,134.9 832.4,134.1 834.9,144.1 825.7,144.9"/>
<polygon class="g" points="839.8,131.6 850.6,130.8 853.1,144.1 843.2,144.9"/>
<polygon class="g" points="829.9,156.8 837.0,156.2 837.7,160.3 830.7,161.0"/>
<polygon class="g" points="849.8,152.9 856.1,152.0 856.9,157.8 850.6,158.7"/>
<polygon class="g" points="859.8,151.5 869.7,149.9 863.1,158.5"/>
<polygon class="g" points="852.3,162.5 859.8,161.5 855.6,169.8"/>
<polygon class="g" points="649.6,184.3 776.1,165.5 790.0,163.2 825.7,158.2 827.8,164.0 824.9,169.0 790.0,167.3 776.0,168.3 650.0,186.0"/>
<polygon class="w" points="904.5,165.3 928.3,157.8 954.6,159.1 955.9,155.3 968.4,156.6 969.7,152.8 999.7,150.3 1004.7,175.0 968.4,182.5 967.2,185.0 958.4,187.6 954.6,200.0 944.6,192.6 940.8,197.6 948.4,228.9 933.3,240.2 928.3,238.9 918.3,217.6 910.8,202.6"/>
<circle class="w" cx="1012.5" cy="193.7" r="12.5"/><circle class="g" cx="1012.5" cy="193.7" r="6"/>
<polygon class="wd" points="985.9,195.1 1009.7,217.6 1019.8,210.1 1026.0,213.9 1026.0,257.7 1016.0,253.9 975.9,216.4 980.9,205.1 977.2,202.6"/>
<polygon class="wd" points="1018.5,260.2 1026.0,255.2 1026.0,296.5 1006.0,284.0"/>
<polygon class="w" points="868.3,266.5 906.4,309.6 893.2,321.2 896.5,332.9 934.7,323.9 941.3,346.1 864.9,368.4 860.0,347.8 863.3,337.8 873.2,322.9 845.0,291.4"/>
<polygon class="wn" points="420.6,242.7 454.4,238.2 457.5,265.7 452.4,271.0 424.1,274.7"/>
<polygon class="g" points="531.9,269.8 542.6,268.1 544.2,276.4 533.6,278.1"/>
<polygon class="g" points="539.9,283.1 548.5,281.4 559.8,322.9 567.5,321.2 570.8,341.2 559.8,343.8 557.5,331.2 550.9,324.6"/>
<polygon class="nv" points="397.3,228.1 488.8,217.1 493.3,251.4 478.0,253.9 479.5,262.7 472.5,263.5 473.2,268.2 466.2,269.5 465.5,264.7 457.5,265.7 454.4,238.2 420.6,242.7 424.1,274.7 452.4,271.0 454.2,285.3 407.4,292.0 404.8,277.2 408.6,276.5 406.1,261.5 402.3,262.0"/>
<polygon class="nv" points="645.8,450.3 698.4,435.2 708.4,442.7 717.2,480.0 725.2,520.1 673.4,533.9 662.1,536.4 659.6,527.6"/>
<circle class="w" cx="805.5" cy="475.5" r="46"/><circle class="g" cx="805.5" cy="475.5" r="42.6"/>

<polygon class="wd" points="458.0,664.0 487.9,655.2 490.4,664.0"/>
<polygon class="wd" points="518.6,659.3 530.1,656.3 532.8,664.0 520.3,664.0"/>
<polygon class="wd" points="358.3,659.3 364.2,656.8 366.6,664.0 358.3,664.0"/>
<polygon class="g" points="557.9,563.3 564.6,558.3 573.7,588.5 565.2,591.2"/>
<polygon class="g" points="834.9,531.5 858.1,511.5 858.1,525.6"/>
<polygon class="g" points="684.6,582.7 708.4,573.2 709.7,576.9 687.2,585.7"/>
<polygon class="g" points="712.2,571.7 744.8,561.7 747.3,566.7 714.7,576.7"/>
<polygon class="g" points="749.8,560.2 807.4,544.1 808.6,549.1 752.3,565.2"/>
<polygon class="g" points="649.6,573.9 653.3,572.2 672.1,589.0 649.6,610.3 643.3,602.7"/>
<polygon class="g" points="865.6,505.7 908.8,503.2 903.8,507.9 896.4,513.2 865.6,523.2"/>
<polygon class="g" points="913.8,509.4 995.2,482.5 1003.5,482.6 960.3,495.2 918.8,506.0"/>
<polygon class="wd" points="712.2,607.8 751.0,597.7 764.8,646.1 722.2,646.1"/>
<polygon class="w" points="759.8,573.9 804.9,562.7 812.4,630.3 777.3,632.8 774.8,625.3 768.6,626.5 762.3,592.7 764.8,592.2"/>
<polygon class="wd" points="768.0,644.8 830.6,633.5 838.1,668.0 768.0,668.0"/>
<polygon class="wd" points="910.8,638.5 938.3,633.5 943.3,668.0 915.8,668.0"/>
<polygon class="wd" points="948.4,639.8 998.5,626.0 1009.7,668.0 955.9,668.0"/>
<polygon class="w" points="906.0,561.0 997.0,538.0 1008.5,590.0 967.0,601.0 969.0,612.0 915.0,626.0"/>
<ellipse class="w" cx="943" cy="524" rx="25.5" ry="18" transform="rotate(-12 943 524)"/>

<polygon class="w" points="702.3,295.7 718.9,292.0 723.2,308.0 706.6,311.3"/>
</g>
<!-- legend -->
<rect x="808.5" y="534.5" width="155" height="98" fill="#fff" fill-opacity="0.92"/>
<rect x="815.8" y="542" width="16.8" height="60.4" fill="url(#lgr)"/>
<rect x="815.8" y="609.2" width="16.8" height="15.8" fill="#cfc5c5"/>
<text class="lg" x="845" y="555.5">Like</text>
<text class="lg" x="845" y="576.6">Mixed</text>
<text class="lg" x="845" y="598.4">Dislike</text>
<text class="lg" x="845" y="620.5">Neutral</text>
<!-- chart -->
<rect x="98.70" y="256.4" width="9.3" height="295.6" fill="#cfc5c5"/>
<rect x="98.70" y="145.0" width="9.3" height="111.4" fill="#77c81f"/>
<rect x="98.70" y="134.2" width="9.3" height="10.8" fill="#c2207f"/>
<text class="bl" transform="translate(105.7 558.4) rotate(-90)" text-anchor="end" textLength="40.1" lengthAdjust="spacingAndGlyphs">BECHTEL</text>
<rect x="111.84" y="309.6" width="9.3" height="242.4" fill="#cfc5c5"/>
<rect x="111.84" y="230.8" width="9.3" height="78.8" fill="#77c81f"/>
<rect x="111.84" y="197.0" width="9.3" height="33.8" fill="#c2207f"/>
<text class="bl" transform="translate(118.9 558.4) rotate(-90)" text-anchor="end" textLength="24.8" lengthAdjust="spacingAndGlyphs">CORY</text>
<rect x="124.98" y="339.6" width="9.3" height="212.4" fill="#cfc5c5"/>
<rect x="124.98" y="294.3" width="9.3" height="45.3" fill="#77c81f"/>
<rect x="124.98" y="233.2" width="9.3" height="61.1" fill="#c2207f"/>
<text class="bl" transform="translate(132.1 558.4) rotate(-90)" text-anchor="end" textLength="26.3" lengthAdjust="spacingAndGlyphs">DAVIS</text>
<rect x="138.12" y="384.7" width="9.3" height="167.3" fill="#cfc5c5"/>
<rect x="138.12" y="324.1" width="9.3" height="60.6" fill="#77c81f"/>
<rect x="138.12" y="272.0" width="9.3" height="52.1" fill="#c2207f"/>
<text class="bl" transform="translate(145.2 558.4) rotate(-90)" text-anchor="end" textLength="63.9" lengthAdjust="spacingAndGlyphs">ETCHEVERRY</text>
<rect x="151.26" y="381.2" width="9.3" height="170.8" fill="#cfc5c5"/>
<rect x="151.26" y="304.3" width="9.3" height="76.9" fill="#77c81f"/>
<rect x="151.26" y="289.5" width="9.3" height="14.8" fill="#c2207f"/>
<text class="bl" transform="translate(158.4 558.4) rotate(-90)" text-anchor="end" textLength="25.7" lengthAdjust="spacingAndGlyphs">SODA</text>
<rect x="164.40" y="426.5" width="9.3" height="125.5" fill="#cfc5c5"/>
<rect x="164.40" y="314.3" width="9.3" height="112.2" fill="#77c81f"/>
<rect x="164.40" y="305.0" width="9.3" height="9.3" fill="#c2207f"/>
<text class="bl" transform="translate(171.6 558.4) rotate(-90)" text-anchor="end" textLength="72.4" lengthAdjust="spacingAndGlyphs">SUTARDJA DAI</text>
<rect x="177.54" y="463.3" width="9.3" height="88.7" fill="#cfc5c5"/>
<rect x="177.54" y="408.3" width="9.3" height="55.0" fill="#77c81f"/>
<rect x="177.54" y="397.2" width="9.3" height="11.1" fill="#c2207f"/>
<text class="bl" transform="translate(184.8 558.4) rotate(-90)" text-anchor="end" textLength="27.8" lengthAdjust="spacingAndGlyphs">HMMB</text>
<rect x="190.68" y="490.1" width="9.3" height="61.9" fill="#cfc5c5"/>
<rect x="190.68" y="419.8" width="9.3" height="70.3" fill="#77c81f"/>
<rect x="190.68" y="417.3" width="9.3" height="2.5" fill="#c2207f"/>
<text class="bl" transform="translate(198.0 558.4) rotate(-90)" text-anchor="end" textLength="41.4" lengthAdjust="spacingAndGlyphs">STANLEY</text>
<rect x="203.82" y="515.2" width="9.3" height="36.8" fill="#cfc5c5"/>
<rect x="203.82" y="447.5" width="9.3" height="67.7" fill="#77c81f"/>
<rect x="203.82" y="445.0" width="9.3" height="2.5" fill="#c2207f"/>
<text class="bl" transform="translate(211.1 558.4) rotate(-90)" text-anchor="end" textLength="37.3" lengthAdjust="spacingAndGlyphs">JACOBS</text>
<rect x="216.96" y="498.4" width="9.3" height="53.6" fill="#cfc5c5"/>
<rect x="216.96" y="482.6" width="9.3" height="15.8" fill="#77c81f"/>
<rect x="216.96" y="464.5" width="9.3" height="18.1" fill="#c2207f"/>
<text class="bl" transform="translate(224.3 558.4) rotate(-90)" text-anchor="end" textLength="61.7" lengthAdjust="spacingAndGlyphs">MCLAUGHLIN</text>
<rect x="230.10" y="501.4" width="9.3" height="50.6" fill="#cfc5c5"/>
<rect x="230.10" y="490.9" width="9.3" height="10.5" fill="#77c81f"/>
<rect x="230.10" y="472.1" width="9.3" height="18.8" fill="#c2207f"/>
<text class="bl" transform="translate(237.5 558.4) rotate(-90)" text-anchor="end" textLength="36.3" lengthAdjust="spacingAndGlyphs">O&#39;BRIEN</text>
<rect x="243.24" y="525.7" width="9.3" height="26.3" fill="#cfc5c5"/>
<rect x="243.24" y="500.6" width="9.3" height="25.1" fill="#77c81f"/>
<rect x="243.24" y="497.1" width="9.3" height="3.5" fill="#c2207f"/>
<text class="bl" transform="translate(250.7 558.4) rotate(-90)" text-anchor="end" textLength="31.3" lengthAdjust="spacingAndGlyphs">HESSE</text>
<rect x="256.38" y="525.7" width="9.3" height="26.3" fill="#cfc5c5"/>
<rect x="256.38" y="511.9" width="9.3" height="13.8" fill="#77c81f"/>
<rect x="256.38" y="499.1" width="9.3" height="12.8" fill="#c2207f"/>
<text class="bl" transform="translate(263.9 558.4) rotate(-90)" text-anchor="end" textLength="31.3" lengthAdjust="spacingAndGlyphs">EVANS</text>
<rect x="269.52" y="542.2" width="9.3" height="9.8" fill="#cfc5c5"/>
<rect x="269.52" y="526.0" width="9.3" height="16.2" fill="#77c81f"/>
<rect x="269.52" y="525.2" width="9.3" height="0.8" fill="#c2207f"/>
<text class="bl" transform="translate(277.0 558.4) rotate(-90)" text-anchor="end" textLength="27.6" lengthAdjust="spacingAndGlyphs">BLUM</text>
<rect x="86.2" y="123.5" width="1.6" height="430" fill="#1d3b6c"/>
<text class="ax" x="81" y="138.0" text-anchor="end">650</text>
<text class="ax" x="81" y="201.9" text-anchor="end">550</text>
<text class="ax" x="81" y="265.8" text-anchor="end">450</text>
<text class="ax" x="81" y="329.7" text-anchor="end">350</text>
<text class="ax" x="81" y="393.6" text-anchor="end">250</text>
<text class="ax" x="81" y="457.5" text-anchor="end">150</text>
<text class="ax" x="81" y="521.4" text-anchor="end">50</text>
<text class="ax" transform="translate(48.4 379.8) rotate(-90)" text-anchor="middle" style="font-size:11.3px">Responses</text>
</svg>
<div class="title">BUILDING IMPRESSIONS</div>
<div class="sub">All Responses</div>
<div class="para" style="top:92.6px"><span style="word-spacing:-1.3px">Building impressions are</span><br>consistent among<br>students, faculty and<br>staff</div>
<div class="para" style="top:193.6px">Building ratings<br>weighted by comments</div>
</body>
</html>
